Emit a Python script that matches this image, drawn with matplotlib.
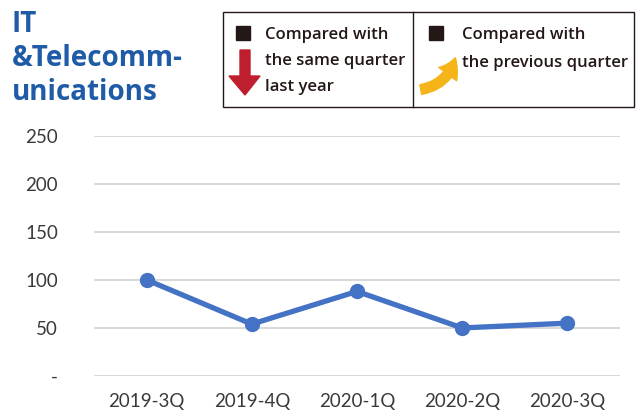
import numpy as np
import matplotlib.pyplot as plt
from matplotlib.patches import Polygon, Rectangle, FancyArrowPatch

quarters = ['2019-3Q', '2019-4Q', '2020-1Q', '2020-2Q', '2020-3Q']
values = [100, 54, 88, 50, 55]
yticks = [0, 50, 100, 150, 200, 250]
ytick_labels = ['-', '50', '100', '150', '200', '250']

title_lines = ['IT', '&Telecomm-', 'unications']
legend_left = ['Compared with', 'the same quarter', 'last year']
legend_right = ['Compared with', 'the previous quarter']

blue = '#4472C4'
title_blue = '#1F5BA6'
txt = '#231815'

fig = plt.figure(figsize=(6.37, 4.15), dpi=100)
W, H = 637, 415

def fx(px):
    return px / W

def fy(py):
    return 1 - py / H

ax = fig.add_axes([fx(94), fy(376), fx(620) - fx(94), fy(135.7) - fy(376)])
x = np.arange(len(quarters))
ax.plot(x, values, color=blue, lw=3.8, marker='o', ms=10, solid_capstyle='round', zorder=3)
ax.set_xlim(-0.5, len(quarters) - 0.5)
ax.set_ylim(0, 250)
ax.set_yticks(yticks)
ax.set_yticklabels(ytick_labels)
ax.set_xticks(x)
ax.set_xticklabels(quarters)
ax.grid(axis='y', color='#D9D9D9', lw=1.5)
ax.set_axisbelow(True)
for s in ax.spines.values():
    s.set_visible(False)
ax.tick_params(axis='both', length=0, labelsize=13.5, labelcolor='#3A3A3A')
ax.tick_params(axis='y', pad=26)
ax.tick_params(axis='x', pad=12)
for lab in ax.get_xticklabels() + ax.get_yticklabels():
    lab.set_family('Lato')

# title
for i, t in enumerate(title_lines):
    fig.text(fx(12), fy(32 + 34 * i), t, color=title_blue, fontsize=20,
             fontweight='bold', family='Open Sans', va='baseline', ha='left')

# legend box
fig.patches.append(Rectangle((fx(223), fy(107)), fx(634) - fx(223), fy(12) - fy(107),
                             transform=fig.transFigure, fill=False, ec='#231815', lw=1.0))
fig.add_artist(plt.Line2D([fx(413), fx(413)], [fy(12), fy(107)], color='#231815', lw=1.0))

for sx in [236, 429]:
    fig.patches.append(Rectangle((fx(sx), fy(40)), fx(14) - fx(0), fy(26) - fy(40),
                                 transform=fig.transFigure, color='#231815'))

for i, t in enumerate(legend_left):
    fig.text(fx(265), fy(39 + 26 * i), t, color=txt, fontsize=12,
             fontweight='semibold', family='Open Sans', va='baseline')
for i, t in enumerate(legend_right):
    fig.text(fx(462), fy(39 + 28 * i), t, color=txt, fontsize=12,
             fontweight='semibold', family='Open Sans', va='baseline')

# red down arrow
arrow = [(240, 50), (250, 50), (250, 76), (260, 76), (245, 95), (229, 76), (240, 76)]
fig.patches.append(Polygon([(fx(a), fy(b)) for a, b in arrow], closed=True,
                           transform=fig.transFigure, color='#BE1E2D'))

# yellow curved arrow
fa = FancyArrowPatch((fx(418), fy(90)), (fx(456), fy(55)), transform=fig.transFigure,
                     connectionstyle='arc3,rad=0.35', arrowstyle='simple,head_width=16,head_length=13,tail_width=7',
                     color='#F5B417', mutation_scale=1)
fig.patches.append(fa)

fig.savefig('out.png', dpi=100)
